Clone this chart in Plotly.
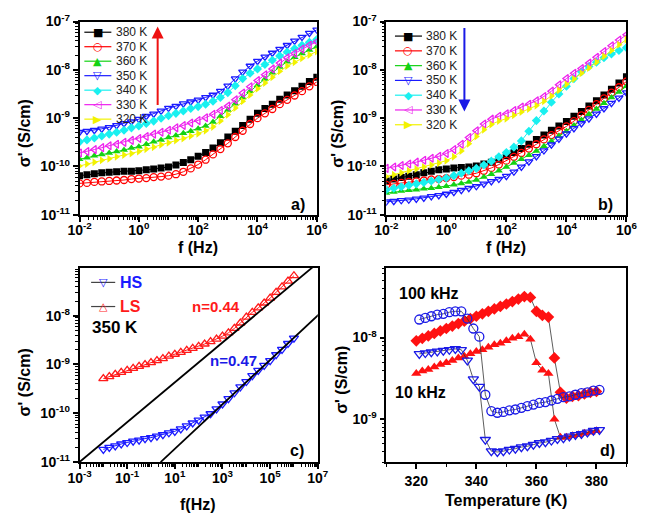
import numpy as np
import plotly.graph_objects as go

# ---------------- data ----------------
# measurement frequencies (Hz)
freq_hz = [0.01, 0.0178, 0.0316, 0.0562, 0.1, 0.178, 0.316, 0.562,
           1, 1.78, 3.16, 5.62, 10, 17.8, 31.6, 56.2,
           100, 178, 316, 562, 1e3, 1.78e3, 3.16e3, 5.62e3,
           1e4, 1.78e4, 3.16e4, 5.62e4, 1e5, 1.78e5, 3.16e5, 5.62e5, 1e6]

temps = ["380 K", "370 K", "360 K", "350 K", "340 K", "330 K", "320 K"]

# panel a: log10 sigma' (S/cm)
a_380 = [-10.19, -10.17, -10.15, -10.13, -10.12, -10.11, -10.10, -10.10, -10.09, -10.07, -10.05, -10.03,
         -10.01, -9.97, -9.92, -9.86, -9.79, -9.71, -9.62, -9.51, -9.39, -9.27, -9.15, -9.02,
         -8.90, -8.80, -8.71, -8.61, -8.52, -8.43, -8.34, -8.24, -8.15]
a_370 = [-10.35, -10.34, -10.32, -10.31, -10.30, -10.29, -10.28, -10.26, -10.25, -10.24, -10.22, -10.21,
         -10.19, -10.16, -10.11, -10.04, -9.96, -9.86, -9.75, -9.64, -9.52, -9.39, -9.26, -9.12,
         -9.00, -8.90, -8.81, -8.71, -8.62, -8.53, -8.44, -8.34, -8.25]
a_360 = [-9.85, -9.82, -9.78, -9.75, -9.72, -9.69, -9.66, -9.62, -9.59, -9.54, -9.49, -9.45,
         -9.40, -9.36, -9.31, -9.27, -9.22, -9.16, -9.08, -8.96, -8.83, -8.70, -8.57, -8.44,
         -8.32, -8.19, -8.06, -7.94, -7.83, -7.74, -7.66, -7.59, -7.52]
a_350 = [-9.29, -9.27, -9.25, -9.22, -9.19, -9.15, -9.11, -9.07, -9.02, -8.96, -8.91, -8.85,
         -8.79, -8.75, -8.70, -8.66, -8.62, -8.57, -8.52, -8.44, -8.33, -8.18, -8.04, -7.92,
         -7.82, -7.73, -7.65, -7.57, -7.49, -7.40, -7.32, -7.24, -7.17]
a_340 = [-9.49, -9.45, -9.41, -9.37, -9.33, -9.29, -9.25, -9.20, -9.16, -9.11, -9.06, -9.00,
         -8.95, -8.90, -8.85, -8.80, -8.76, -8.71, -8.65, -8.57, -8.47, -8.33, -8.18, -8.07,
         -7.98, -7.89, -7.80, -7.71, -7.63, -7.56, -7.49, -7.43, -7.37]
a_330 = [-9.72, -9.69, -9.65, -9.61, -9.57, -9.54, -9.50, -9.46, -9.42, -9.38, -9.33, -9.29,
         -9.25, -9.20, -9.15, -9.10, -9.05, -8.99, -8.92, -8.84, -8.75, -8.62, -8.48, -8.35,
         -8.22, -8.10, -7.98, -7.86, -7.75, -7.66, -7.57, -7.49, -7.42]
a_320 = [-9.99, -9.95, -9.91, -9.87, -9.84, -9.80, -9.76, -9.73, -9.69, -9.64, -9.60, -9.55,
         -9.51, -9.46, -9.42, -9.37, -9.32, -9.26, -9.18, -9.06, -8.93, -8.79, -8.65, -8.52,
         -8.39, -8.27, -8.15, -8.03, -7.92, -7.84, -7.76, -7.69, -7.62]

# panel b: log10 sigma' (S/cm)
b_380 = [-10.30, -10.26, -10.23, -10.20, -10.17, -10.13, -10.10, -10.07, -10.05, -10.03, -10.02, -10.01,
         -9.99, -9.95, -9.91, -9.85, -9.78, -9.71, -9.63, -9.54, -9.44, -9.35, -9.25, -9.16,
         -9.07, -8.96, -8.86, -8.75, -8.64, -8.52, -8.40, -8.27, -8.14]
b_370 = [-10.38, -10.36, -10.34, -10.32, -10.31, -10.29, -10.27, -10.26, -10.24, -10.22, -10.19, -10.17,
         -10.14, -10.09, -10.03, -9.96, -9.88, -9.80, -9.72, -9.63, -9.54, -9.44, -9.35, -9.26,
         -9.17, -9.06, -8.94, -8.83, -8.71, -8.59, -8.47, -8.36, -8.24]
b_360 = [-10.55, -10.53, -10.51, -10.49, -10.48, -10.46, -10.45, -10.43, -10.41, -10.38, -10.35, -10.32,
         -10.28, -10.22, -10.16, -10.09, -10.01, -9.93, -9.85, -9.77, -9.68, -9.58, -9.48, -9.37,
         -9.27, -9.15, -9.04, -8.92, -8.81, -8.69, -8.57, -8.46, -8.34]
b_350 = [-10.73, -10.72, -10.70, -10.69, -10.67, -10.65, -10.62, -10.60, -10.57, -10.53, -10.49, -10.45,
         -10.41, -10.36, -10.31, -10.26, -10.20, -10.11, -10.01, -9.90, -9.79, -9.67, -9.55, -9.43,
         -9.32, -9.21, -9.11, -9.01, -8.91, -8.80, -8.69, -8.58, -8.47]
b_340 = [-10.48, -10.45, -10.42, -10.39, -10.36, -10.33, -10.30, -10.27, -10.24, -10.19, -10.14, -10.09,
         -10.04, -9.97, -9.89, -9.80, -9.71, -9.60, -9.47, -9.27, -9.05, -8.85, -8.67, -8.50,
         -8.34, -8.18, -8.04, -7.93, -7.84, -7.75, -7.67, -7.60, -7.54]
b_330 = [-10.04, -10.01, -9.98, -9.95, -9.91, -9.87, -9.83, -9.79, -9.73, -9.65, -9.54, -9.40,
         -9.26, -9.12, -9.02, -8.96, -8.91, -8.84, -8.77, -8.71, -8.64, -8.55, -8.44, -8.31,
         -8.18, -8.07, -7.97, -7.86, -7.74, -7.62, -7.50, -7.38, -7.27]
b_320 = [-10.21, -10.17, -10.13, -10.09, -10.05, -10.01, -9.97, -9.93, -9.88, -9.80, -9.68, -9.53,
         -9.38, -9.24, -9.13, -9.06, -9.01, -8.94, -8.87, -8.81, -8.74, -8.65, -8.54, -8.42,
         -8.30, -8.19, -8.07, -7.96, -7.84, -7.72, -7.60, -7.48, -7.37]

# panel c: 350 K, log10 sigma' (S/cm)
c_hs = [-10.74, -10.70, -10.67, -10.63, -10.60, -10.57, -10.55, -10.52, -10.50, -10.47, -10.44, -10.40,
        -10.37, -10.32, -10.26, -10.20, -10.14, -10.08, -10.01, -9.91, -9.81, -9.70, -9.58, -9.46,
        -9.35, -9.23, -9.12, -9.02, -8.92, -8.80, -8.69, -8.57, -8.46]
c_ls = [-9.29, -9.25, -9.20, -9.16, -9.12, -9.08, -9.04, -9.00, -8.96, -8.92, -8.88, -8.83,
        -8.79, -8.75, -8.71, -8.67, -8.63, -8.58, -8.53, -8.48, -8.42, -8.35, -8.26, -8.15,
        -8.03, -7.93, -7.84, -7.74, -7.64, -7.52, -7.41, -7.29, -7.18]
# power-law fit lines (end points, Hz and S/cm)
fit_ls_f = [1e-3, 1e8]
fit_ls_s = [1e-11, 3.1e-7]
fit_hs_f = [2.54, 1e8]
fit_hs_s = [1e-11, 2.9e-8]

# panel d: temperature dependence, log10 sigma' (S/cm)
T_hs = [321, 323, 325, 327, 329, 331, 333, 335, 337, 339, 341, 343, 345, 347, 349, 351,
        353, 355, 357, 359, 361, 363, 365, 367, 369, 371, 373, 375, 377, 379, 381]
hs_100k = [-7.78, -7.76, -7.74, -7.72, -7.71, -7.69, -7.68, -7.68, -7.77, -7.89, -7.99, -8.70, -8.90, -8.92, -8.91, -8.89,
           -8.88, -8.86, -8.84, -8.82, -8.80, -8.79, -8.77, -8.75, -8.73, -8.72, -8.70, -8.68, -8.67, -8.65, -8.64]
hs_10k = [-8.20, -8.19, -8.18, -8.17, -8.16, -8.15, -8.14, -8.15, -8.28, -8.51, -8.60, -9.25, -9.39, -9.40, -9.39, -9.37,
          -9.36, -9.34, -9.33, -9.31, -9.29, -9.28, -9.26, -9.24, -9.23, -9.21, -9.19, -9.18, -9.16, -9.14, -9.13]
T_ls = [320, 322, 324, 326, 328, 330, 332, 334, 336, 338, 340, 342, 344, 346, 348, 350,
        352, 354, 356, 358, 360, 362, 364, 366, 368, 370, 372, 374, 376, 378, 380]
ls_100k = [-8.04, -8.01, -7.98, -7.95, -7.92, -7.89, -7.86, -7.83, -7.80, -7.77, -7.74, -7.71, -7.68, -7.65, -7.62, -7.59,
           -7.56, -7.53, -7.50, -7.51, -7.68, -7.73, -7.75, -8.25, -8.67, -8.74, -8.72, -8.71, -8.69, -8.67, -8.66]
ls_10k = [-8.44, -8.41, -8.39, -8.36, -8.33, -8.31, -8.28, -8.25, -8.23, -8.20, -8.17, -8.15, -8.12, -8.09, -8.07, -8.04,
          -8.01, -7.99, -7.96, -8.02, -8.31, -8.40, -8.44, -9.00, -9.22, -9.22, -9.20, -9.19, -9.17, -9.16, -9.14]

# ---------------- style ----------------
W, H = 650, 528
FONT = "Liberation Sans, Arial, sans-serif"
def px(x): return x / W
def py(y): return 1 - y / H

styles = [
    ("square", "#000000"),
    ("circle-open", "#ff0000"),
    ("triangle-up", "#14d214"),
    ("triangle-down-open", "#1a1aff"),
    ("diamond", "#19f0f0"),
    ("triangle-left-open", "#ee22ee"),
    ("triangle-right", "#f2f200"),
]
glyphs = ["■", "○", "▲", "▽", "◆", "◁", "▶"]

fig = go.Figure()

def add_series(xs, ys_log, sym, col, xa, ya, size=7, lcol=None, lw=1.0):
    open_ = sym.endswith("-open")
    fig.add_trace(go.Scatter(
        x=xs, y=10 ** np.array(ys_log), mode="lines+markers",
        marker=dict(symbol=sym, size=size, color=col,
                    line=dict(color=col, width=1.3 if open_ else 0)),
        line=dict(color=lcol or col, width=lw),
        xaxis=xa, yaxis=ya, showlegend=False))

for arr, (sym, col) in zip([a_380, a_370, a_360, a_350, a_340, a_330, a_320], styles):
    add_series(freq_hz, arr, sym, col, "x", "y")
for arr, (sym, col) in zip([b_380, b_370, b_360, b_350, b_340, b_330, b_320], styles):
    add_series(freq_hz, arr, sym, col, "x2", "y2")

add_series(freq_hz, c_hs, "triangle-down-open", "#1a1aff", "x3", "y3", size=8)
add_series(freq_hz, c_ls, "triangle-up-open", "#ff1a1a", "x3", "y3", size=8)
fig.add_trace(go.Scatter(x=fit_ls_f, y=fit_ls_s, mode="lines", line=dict(color="black", width=1.8),
                         xaxis="x3", yaxis="y3", showlegend=False))
fig.add_trace(go.Scatter(x=fit_hs_f, y=fit_hs_s, mode="lines", line=dict(color="black", width=1.8),
                         xaxis="x3", yaxis="y3", showlegend=False))

add_series(T_ls, ls_100k, "diamond", "#ff1111", "x4", "y4", size=9, lcol="#333333", lw=0.8)
add_series(T_ls, ls_10k, "triangle-up", "#ff1111", "x4", "y4", size=9, lcol="#333333", lw=0.8)
add_series(T_hs, hs_100k, "circle-open", "#1a1ae6", "x4", "y4", size=9, lcol="#333333", lw=0.8)
add_series(T_hs, hs_10k, "triangle-down-open", "#1a1ae6", "x4", "y4", size=9, lcol="#333333", lw=0.8)

# ---------------- axes ----------------
tickfont = dict(family=FONT, size=14, color="black", weight="bold")

def sup(e):
    return "10<sup>%d</sup>" % e

def log_minor(e0, e1, skip=()):
    vals = []
    for e in range(e0, e1):
        for k in range(1, 10):
            if k == 1 and e in skip:
                continue
            vals.append(k * 10.0 ** e)
    return vals

def base_axis(domain, anchor, standoff=0):
    return dict(domain=domain, anchor=anchor, showline=True, mirror=True, linecolor="black",
                linewidth=1.5, ticks="outside", ticklen=5, tickwidth=1.5, tickcolor="black",
                showgrid=False, zeroline=False, tickfont=tickfont, ticklabelstandoff=standoff)

def dom_x(p): return [px(p[0]), px(p[1])]
def dom_y(p): return [py(p[1]), py(p[0])]

A = dict(x=(70, 316), y=(12, 212))
B = dict(x=(388, 637), y=(12, 212))
C = dict(x=(70, 317), y=(267, 468))
D = dict(x=(388, 637), y=(267, 468))

fx_major = [-2, 0, 2, 4, 6]
sy_major = [-11, -10, -9, -8, -7]
minor_style = dict(ticks="outside", ticklen=3, tickwidth=1, tickcolor="black", tickmode="array")

for i, P in enumerate([A, B]):
    sfx = "" if i == 0 else "2"
    xa = base_axis(dom_x(P["x"]), "y" + sfx, standoff=-3)
    xa.update(type="log", range=[-2, 6], tickmode="array",
              tickvals=[10.0 ** e for e in fx_major], ticktext=[sup(e) for e in fx_major],
              minor=dict(minor_style, tickvals=log_minor(-2, 6)))
    ya = base_axis(dom_y(P["y"]), "x" + sfx)
    ya.update(type="log", range=[-11, -7], tickmode="array",
              tickvals=[10.0 ** e for e in sy_major], ticktext=[sup(e) for e in sy_major],
              minor=dict(minor_style, tickvals=log_minor(-11, -7)))
    fig.update_layout(**{"xaxis" + sfx: xa, "yaxis" + sfx: ya})

cx_major = [-3, -1, 1, 3, 5, 7]
cy_major = [-11, -10, -9, -8]
xa = base_axis(dom_x(C["x"]), "y3", standoff=-3)
xa.update(type="log", range=[-3, 7], tickmode="array",
          tickvals=[10.0 ** e for e in cx_major], ticktext=[sup(e) for e in cx_major],
          minor=dict(minor_style, tickvals=log_minor(-3, 7)))
ya = base_axis(dom_y(C["y"]), "x3")
ya.update(type="log", range=[-11, -7.02], tickmode="array",
          tickvals=[10.0 ** e for e in cy_major], ticktext=[sup(e) for e in cy_major],
          minor=dict(minor_style, tickvals=log_minor(-11, -7)))
fig.update_layout(xaxis3=xa, yaxis3=ya)

dx_major = [320, 340, 360, 380]
dy_major = [-9, -8]
xa = base_axis(dom_x(D["x"]), "y4")
xa.update(type="linear", range=[310, 390], tickmode="array", tickvals=dx_major,
          ticktext=[str(v) for v in dx_major],
          minor=dict(minor_style, tickvals=[310, 330, 350, 370, 390]))
ya = base_axis(dom_y(D["y"]), "x4")
ya.update(type="log", range=[np.log10(3e-10), np.log10(7.1e-8)], tickmode="array",
          tickvals=[10.0 ** e for e in dy_major], ticktext=[sup(e) for e in dy_major],
          minor=dict(minor_style, tickvals=log_minor(-10, -7, skip=(-9, -8))))
fig.update_layout(xaxis4=xa, yaxis4=ya)

# ---------------- annotations ----------------
ann = []
shapes = []

def text(x, y, s, size=16, color="black", bold=True, xanchor="center", angle=0, family=FONT):
    ann.append(dict(x=px(x), y=py(y), xref="paper", yref="paper", text=s, showarrow=False,
                    xanchor=xanchor, yanchor="middle", textangle=angle,
                    font=dict(family=family, size=size, color=color,
                              weight="bold" if bold else "normal")))

# axis titles
text(193, 246, "f (Hz)")
text(512, 246, "f (Hz)")
text(193, 512, "f(Hz)")
text(512, 508, "Temperature (K)")
text(13, 128, "σ' (S/cm)", angle=-90)
text(338, 128, "σ' (S/cm)", angle=-90)
text(13, 386, "σ' (S/cm)", angle=-90)
text(342, 383, "σ' (S/cm)", angle=-90)

# panel letters
text(296, 201, "a)")
text(615, 201, "b)")
text(295, 456, "c)")
text(617, 456, "d)")

# legends for panels a and b
for (lx0, lx1, gx, tx, y0, dy) in [(75, 103, 89, 106, 23, 15.0), (397, 425, 411, 427, 27, 15.3)]:
    for i, (name, (sym, col), g) in enumerate(zip(temps, styles, glyphs)):
        yy = y0 + dy * i
        shapes.append(dict(type="line", xref="paper", yref="paper", x0=px(lx0), x1=px(lx1),
                           y0=py(yy), y1=py(yy), line=dict(color=col, width=1.2)))
        text(gx, yy, g, size=11, color=col, bold=False, family="DejaVu Sans")
        text(tx, yy, name, size=12, color="#222222", bold=False, xanchor="left")

# arrows
ann.append(dict(x=px(151), y=py(17), xref="paper", yref="paper", text="", showarrow=True,
                ax=0, ay=80, arrowhead=2, arrowsize=1.2, arrowwidth=2, arrowcolor="#ee1111"))
ann.append(dict(x=px(469), y=py(105), xref="paper", yref="paper", text="", showarrow=True,
                ax=0, ay=-85, arrowhead=2, arrowsize=1.2, arrowwidth=2, arrowcolor="#1a1ae6"))

# panel c legend & labels
for yy, g, col, name in [(282, "▽", "#1a1aff", "HS"), (307, "△", "#ff1a1a", "LS")]:
    shapes.append(dict(type="line", xref="paper", yref="paper", x0=px(82), x1=px(107),
                       y0=py(yy), y1=py(yy), line=dict(color="#444444", width=1.2)))
    text(94.5, yy, g, size=11, color=col, bold=False, family="DejaVu Sans")
    text(110, yy, name, size=16, color=col, xanchor="left")
text(107, 329, "350 K", size=17)
text(211, 307, "n=0.44", size=15, color="#ff1a1a")
text(230, 363, "n=0.47", size=15, color="#1a1ae6")

# panel d labels
text(432, 294, "100 kHz", size=16)
text(424, 396, "10 kHz", size=16)

fig.update_layout(width=W, height=H, margin=dict(l=0, r=0, t=0, b=0),
                  paper_bgcolor="white", plot_bgcolor="white",
                  annotations=ann, shapes=shapes, showlegend=False,
                  font=dict(family=FONT, color="black"))

fig.write_html("out.html")
